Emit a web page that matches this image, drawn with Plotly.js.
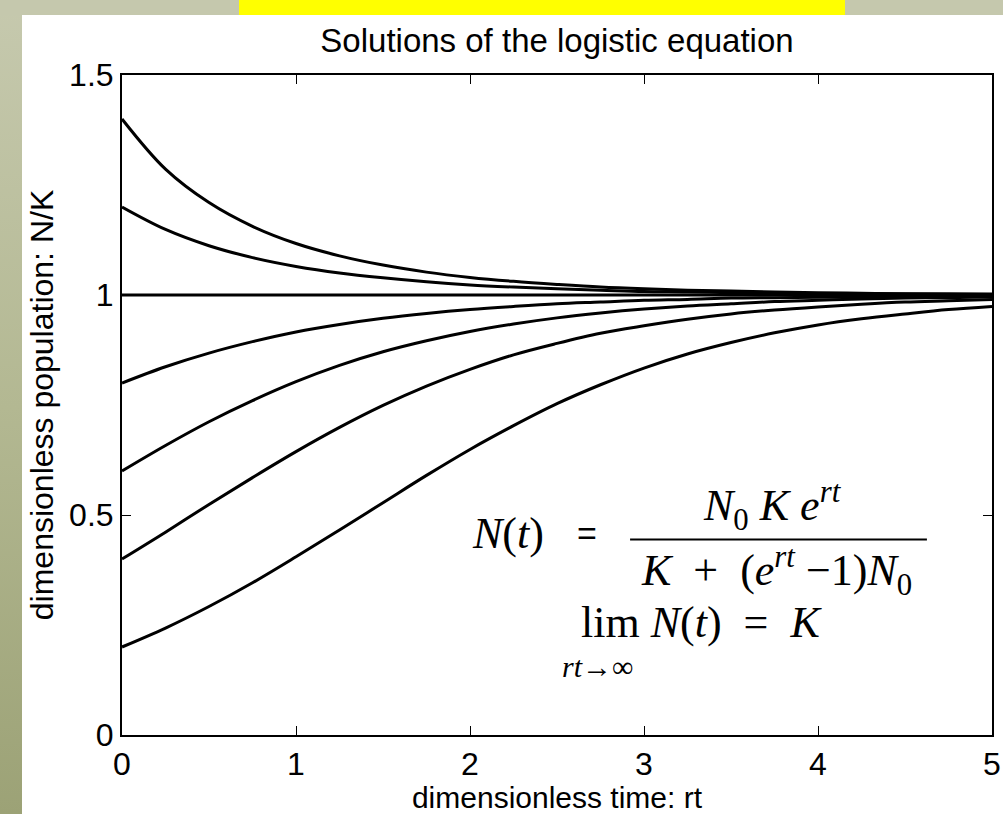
<!DOCTYPE html>
<html>
<head>
<meta charset="utf-8">
<script src="https://cdn.plot.ly/plotly-3.0.1.min.js"></script>
<style>
  html, body { margin: 0; padding: 0; width: 1003px; height: 814px; overflow: hidden;
    background: linear-gradient(to bottom, #c6c9ae 0%, #b3b892 50%, #9ca276 100%); }
  #chart { width: 1003px; height: 814px; }
</style>
</head>
<body>
<div id="chart"></div>
<script>
// dimensionless time rt
const t = [0, 0.25, 0.5, 0.75, 1, 1.25, 1.5, 1.75, 2, 2.25, 2.5, 2.75, 3, 3.25, 3.5, 3.75, 4, 4.25, 4.5, 4.75, 5];

// N/K for each starting population N0/K
const n02 = [0.2, 0.243, 0.292, 0.346, 0.405, 0.466, 0.528, 0.590, 0.649, 0.703, 0.753, 0.796, 0.834, 0.866, 0.892, 0.914, 0.932, 0.946, 0.957, 0.967, 0.974];
const n04 = [0.4, 0.461, 0.524, 0.585, 0.644, 0.699, 0.749, 0.793, 0.831, 0.864, 0.890, 0.913, 0.930, 0.945, 0.957, 0.966, 0.973, 0.979, 0.984, 0.987, 0.990];
const n06 = [0.6, 0.658, 0.712, 0.760, 0.803, 0.840, 0.871, 0.896, 0.917, 0.934, 0.948, 0.959, 0.968, 0.975, 0.980, 0.985, 0.988, 0.991, 0.993, 0.994, 0.996];
const n08 = [0.8, 0.837, 0.868, 0.894, 0.916, 0.933, 0.947, 0.958, 0.967, 0.974, 0.980, 0.984, 0.988, 0.990, 0.993, 0.994, 0.995, 0.996, 0.997, 0.998, 0.998];
const n10 = [1, 1, 1, 1, 1, 1, 1, 1, 1, 1, 1, 1, 1, 1, 1, 1, 1, 1, 1, 1, 1];
const n12 = [1.2, 1.149, 1.112, 1.085, 1.065, 1.050, 1.039, 1.030, 1.023, 1.018, 1.014, 1.011, 1.008, 1.007, 1.005, 1.004, 1.003, 1.002, 1.002, 1.001, 1.001];
const n14 = [1.4, 1.286, 1.210, 1.156, 1.117, 1.089, 1.068, 1.052, 1.040, 1.031, 1.024, 1.018, 1.014, 1.011, 1.009, 1.007, 1.005, 1.004, 1.003, 1.003, 1.002];

const xTicks = [0, 1, 2, 3, 4, 5];
const yTicks = [0, 0.5, 1, 1.5];
const yTickText = ['0', '0.5', '1', '1.5'];

const series = [n02, n04, n06, n08, n10, n12, n14];

const traces = series.map(function (ys) {
  return {
    x: t, y: ys, type: 'scatter', mode: 'lines',
    line: { color: '#000', width: 3, shape: 'spline', smoothing: 1 },
    hoverinfo: 'skip', showlegend: false
  };
});

const sans = 'Liberation Sans, Arial, Helvetica, sans-serif';
const serif = 'Liberation Serif, Times New Roman, serif';

const axisCommon = {
  showgrid: false, zeroline: false,
  showline: true, linecolor: '#000', linewidth: 2, mirror: 'ticks',
  ticks: 'inside', ticklen: 9, tickwidth: 1, tickcolor: '#000',
  tickfont: { family: sans, size: 32, color: '#000' }
};

const layout = {
  width: 1003, height: 814,
  margin: { l: 122, r: 11, t: 75, b: 79, pad: 0 },
  paper_bgcolor: 'rgba(0,0,0,0)',
  plot_bgcolor: '#fff',
  title: {
    text: 'Solutions of the logistic equation',
    font: { family: sans, size: 33, color: '#000' },
    x: 0.5, xref: 'paper', xanchor: 'center',
    y: 1 - 40 / 814, yref: 'container', yanchor: 'middle'
  },
  xaxis: Object.assign({}, axisCommon, {
    range: [0, 5], tickvals: xTicks,
    title: { text: 'dimensionless time: rt', font: { family: sans, size: 30, color: '#000' }, standoff: 2 }
  }),
  yaxis: Object.assign({}, axisCommon, {
    range: [0, 1.5], tickvals: yTicks, ticktext: yTickText,
    title: { text: 'dimensionless population: N/K', font: { family: sans, size: 32, color: '#000' }, standoff: 6 }
  }),
  shapes: [
    // slide surface behind the figure
    { type: 'rect', xref: 'paper', yref: 'paper', layer: 'below',
      x0: -100 / 870, x1: 881 / 870, y0: -79 / 660, y1: 720 / 660,
      fillcolor: '#fff', line: { width: 0 } },
    // header band
    { type: 'rect', xref: 'paper', yref: 'paper', layer: 'below',
      x0: -122 / 870, x1: 881 / 870, y0: 720 / 660, y1: 735 / 660,
      fillcolor: '#c5c8ad', line: { width: 0 } },
    { type: 'rect', xref: 'paper', yref: 'paper', layer: 'below',
      x0: 117 / 870, x1: 723 / 870, y0: 720 / 660, y1: 735 / 660,
      fillcolor: '#ffff00', line: { width: 0 } },
    // fraction bar of the closed-form solution
    { type: 'line', xref: 'x', yref: 'y',
      x0: 2.92, x1: 4.626, y0: 0.4445, y1: 0.4445,
      line: { color: '#000', width: 2 } }
  ],
  annotations: [
    { xref: 'x', yref: 'y', x: 2.218, y: 0.458, xanchor: 'center', showarrow: false,
      text: '<i>N</i>(<i>t</i>)', font: { family: serif, size: 44, color: '#000' } },
    { xref: 'x', yref: 'y', x: 2.672, y: 0.458, showarrow: false,
      text: '=', font: { family: sans, size: 34, color: '#000' } },
    { xref: 'x', yref: 'y', x: 3.74, y: 0.52, showarrow: false,
      text: '<i>N</i><sub>0</sub> <i>K e</i><sup><i>rt</i></sup>', font: { family: serif, size: 44, color: '#000' } },
    { xref: 'x', yref: 'y', x: 3.76, y: 0.372, showarrow: false,
      text: '<i>K</i>  +  (<i>e</i><sup><i>rt</i></sup> \u22121)<i>N</i><sub>0</sub>', font: { family: serif, size: 44, color: '#000' } },
    { xref: 'x', yref: 'y', x: 3.33, y: 0.255, showarrow: false,
      text: 'lim <i>N</i>(<i>t</i>)  =  <i>K</i>', font: { family: serif, size: 44, color: '#000' } },
    { xref: 'x', yref: 'y', x: 2.73, y: 0.155, showarrow: false,
      text: '<i>rt</i>\u2192\u221e', font: { family: serif, size: 30, color: '#000' } }
  ]
};

Plotly.newPlot('chart', traces, layout, { staticPlot: true, displayModeBar: false });
</script>
</body>
</html>
